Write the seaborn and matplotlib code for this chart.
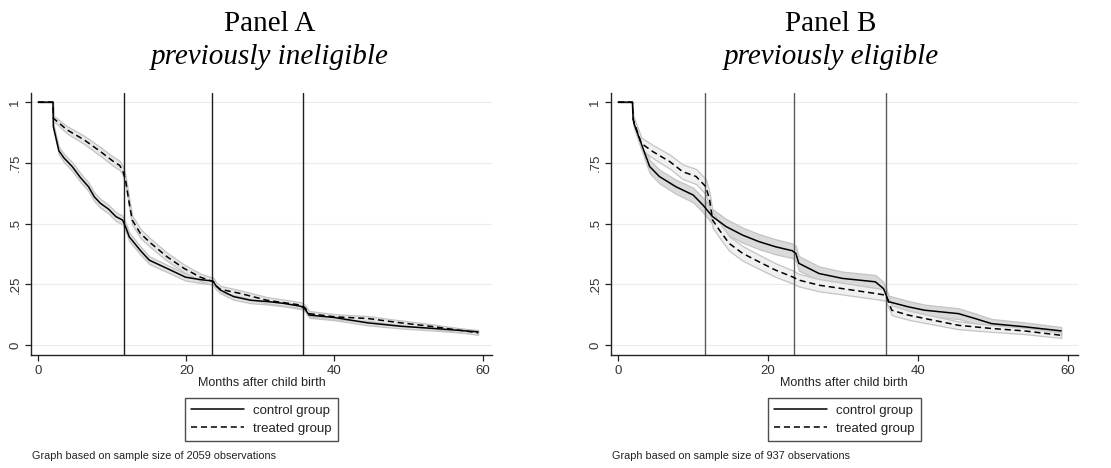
import numpy as np
import pandas as pd
import matplotlib
matplotlib.use("Agg")
import matplotlib.pyplot as plt
import seaborn as sns

# ---- data (Kaplan-Meier survival, months after birth) ----
a_ctrl_months = [0, 2.0, 2.05, 2.8, 3.5, 4.6, 5.7, 6.8, 7.6, 8.4, 9.5, 10.5, 11.4, 11.9, 12.3, 13.0,
                 13.8, 15.0, 17.4, 19.9, 21.9, 23.6, 24.0, 24.6, 26.4, 28.7, 30.9, 33.2, 35.5, 36.0,
                 36.6, 40.0, 44.5, 49.0, 53.5, 59.4]
a_ctrl_surv = [1, 1, 0.90, 0.80, 0.77, 0.735, 0.69, 0.652, 0.61, 0.584, 0.56, 0.529, 0.515, 0.48,
               0.446, 0.42, 0.39, 0.35, 0.316, 0.28, 0.27, 0.264, 0.245, 0.227, 0.20, 0.185, 0.18,
               0.172, 0.16, 0.15, 0.124, 0.114, 0.092, 0.078, 0.069, 0.055]
a_ctrl_ci = [0, 0, 0.012, 0.016, 0.017, 0.018, 0.018, 0.018, 0.018, 0.018, 0.018, 0.018, 0.018,
             0.018, 0.018, 0.017, 0.017, 0.016, 0.015, 0.014, 0.014, 0.014, 0.013, 0.013, 0.013,
             0.012, 0.012, 0.012, 0.012, 0.011, 0.011, 0.011, 0.010, 0.009, 0.009, 0.008]

a_trt_months = [0, 2.0, 2.05, 3.9, 6.2, 8.4, 10.2, 11.0, 11.4, 11.8, 12.3, 12.7, 13.8, 15.2, 17.4,
                19.7, 21.9, 23.7, 24.0, 24.6, 27.3, 30.9, 35.5, 36.0, 36.6, 40.0, 44.5, 49.0, 53.5, 59.4]
a_trt_surv = [1, 1, 0.934, 0.886, 0.845, 0.797, 0.755, 0.74, 0.72, 0.68, 0.584, 0.515, 0.46, 0.42,
              0.364, 0.316, 0.28, 0.261, 0.245, 0.23, 0.213, 0.185, 0.165, 0.155, 0.13, 0.117, 0.11,
              0.092, 0.076, 0.051]
a_trt_ci = [0, 0, 0.011, 0.015, 0.017, 0.018, 0.019, 0.019, 0.019, 0.019, 0.019, 0.019, 0.019,
            0.018, 0.017, 0.016, 0.015, 0.015, 0.014, 0.014, 0.013, 0.013, 0.012, 0.012, 0.011,
            0.011, 0.010, 0.010, 0.009, 0.008]

b_ctrl_months = [0, 1.9, 2.0, 2.1, 2.9, 4.2, 5.5, 7.7, 10.0, 11.3, 12.6, 14.4, 16.6, 18.8, 21.0, 23.2,
                 23.7, 24.1, 26.8, 29.9, 34.3, 35.4, 36.1, 38.7, 40.9, 45.4, 47.6, 49.8, 54.2, 59.1]
b_ctrl_surv = [1, 1, 0.93, 0.913, 0.845, 0.735, 0.694, 0.652, 0.618, 0.577, 0.529, 0.488, 0.453,
               0.426, 0.405, 0.389, 0.378, 0.337, 0.295, 0.275, 0.261, 0.233, 0.179, 0.158, 0.144,
               0.13, 0.11, 0.089, 0.076, 0.059]
b_ctrl_ci = [0, 0, 0.015, 0.018, 0.022, 0.027, 0.028, 0.029, 0.030, 0.030, 0.031, 0.031, 0.031,
             0.031, 0.031, 0.030, 0.030, 0.030, 0.029, 0.028, 0.028, 0.027, 0.025, 0.024, 0.023,
             0.022, 0.021, 0.019, 0.018, 0.016]

b_trt_months = [0, 1.9, 2.0, 2.1, 3.1, 4.6, 6.9, 8.6, 10.4, 11.7, 12.2, 12.6, 13.5, 14.8, 16.6, 18.8,
                21.0, 23.2, 24.1, 26.8, 29.9, 34.3, 35.7, 36.5, 38.7, 40.9, 45.4, 49.8, 54.2, 59.1]
b_trt_surv = [1, 1, 0.93, 0.92, 0.83, 0.797, 0.755, 0.714, 0.694, 0.652, 0.598, 0.515, 0.474, 0.419,
              0.378, 0.343, 0.309, 0.282, 0.268, 0.247, 0.233, 0.213, 0.206, 0.144, 0.124, 0.11,
              0.082, 0.069, 0.059, 0.041]
b_trt_ci = [0, 0, 0.015, 0.018, 0.024, 0.027, 0.029, 0.030, 0.031, 0.031, 0.031, 0.031, 0.031,
            0.030, 0.030, 0.029, 0.028, 0.027, 0.026, 0.025, 0.024, 0.023, 0.023, 0.020, 0.019,
            0.018, 0.016, 0.014, 0.013, 0.011]

panel_titles = ["Panel A", "Panel B"]
panel_subtitles = ["previously ineligible", "previously eligible"]
sample_sizes = [2059, 937]
cutoff_months = [11.6, 23.5, 35.7]
y_ticks = [0, 0.25, 0.5, 0.75, 1]
y_ticklabels = ["0", ".25", ".5", ".75", "1"]
x_ticks = [0, 20, 40, 60]


def make_frame(months, surv, ci, group):
    df = pd.DataFrame({"months": months, "survival": surv, "ci": ci})
    df["group"] = group
    df["lo"] = df["survival"] - df["ci"]
    df["hi"] = df["survival"] + df["ci"]
    return df


panels = [
    pd.concat([make_frame(a_ctrl_months, a_ctrl_surv, a_ctrl_ci, "control group"),
               make_frame(a_trt_months, a_trt_surv, a_trt_ci, "treated group")]),
    pd.concat([make_frame(b_ctrl_months, b_ctrl_surv, b_ctrl_ci, "control group"),
               make_frame(b_trt_months, b_trt_surv, b_trt_ci, "treated group")]),
]

# band fill colours per panel / group (panel B control band is darker)
band_fill = [{"control group": "#e2e2e2", "treated group": "#e6e6e6"},
             {"control group": "#dadada", "treated group": "#f0f0f0"}]
vline_color = ["#1e1e1e", "#5a5a5a"]

sns.set_style("white")
plt.rcParams["font.family"] = ["Liberation Sans", "DejaVu Sans"]

fig = plt.figure(figsize=(11.11, 4.68), dpi=100)
axes = [fig.add_axes([0.028, 0.241, 0.415, 0.56]),
        fig.add_axes([0.550, 0.241, 0.420, 0.56])]
title_x = [0.243, 0.748]

for i, ax in enumerate(axes):
    data = panels[i]
    # confidence bands
    for grp, sub in data.groupby("group"):
        ax.fill_between(sub["months"], sub["lo"], sub["hi"], facecolor=band_fill[i][grp],
                        lw=0.9, edgecolor="#c4c4c4", zorder=1)
    sns.lineplot(data=data, x="months", y="survival", style="group",
                 style_order=["control group", "treated group"],
                 dashes={"control group": "", "treated group": (4, 2.5)},
                 color="black", lw=1.1, estimator=None, sort=False, ax=ax, zorder=3)
    for m in cutoff_months:
        ax.axvline(m, color=vline_color[i], lw=1.0, zorder=2)

    ax.set_xlim(-0.95, 61.3)
    ax.set_ylim(-0.041, 1.037)
    ax.set_yticks(y_ticks)
    ax.set_yticklabels(y_ticklabels, rotation=90, va="center")
    ax.set_xticks(x_ticks)
    ax.yaxis.grid(True, color="#ececec", lw=0.8)
    ax.set_axisbelow(True)
    for side in ["top", "right"]:
        ax.spines[side].set_visible(False)
    for side in ["left", "bottom"]:
        ax.spines[side].set_color("#222222")
        ax.spines[side].set_linewidth(1.0)
    ax.tick_params(axis="both", which="major", length=4, width=0.9, color="#222222",
                   labelsize=9.5, labelcolor="#333333", direction="out", bottom=True, left=True,
                   pad=3)
    ax.set_ylabel("")
    ax.set_xlabel("Months after child birth", fontsize=9, color="#222222", labelpad=0)

    sns.move_legend(ax, "upper center", bbox_to_anchor=(0.5, -0.165), title=None,
                    frameon=True, fancybox=False, fontsize=9.5, handlelength=4.0,
                    borderpad=0.45, labelspacing=0.45, handletextpad=0.7, borderaxespad=0)
    leg = ax.get_legend()
    leg.get_frame().set_edgecolor("#222222")
    leg.get_frame().set_linewidth(1.0)
    for t in leg.get_texts():
        t.set_color("#222222")

    fig.text(title_x[i], 0.934, panel_titles[i], ha="center", va="baseline", color="black",
             fontsize=21, family=["Liberation Serif", "DejaVu Serif"])
    fig.text(title_x[i], 0.863, panel_subtitles[i], ha="center", va="baseline", color="black",
             fontsize=21, style="italic", family=["Liberation Serif", "DejaVu Serif"])
    note_x = ax.get_position().x0 + 0.001
    fig.text(note_x, 0.026, "Graph based on sample size of %d observations" % sample_sizes[i],
             fontsize=7.8, color="#222222", ha="left", va="center")

fig.savefig("out.png", dpi=100)
